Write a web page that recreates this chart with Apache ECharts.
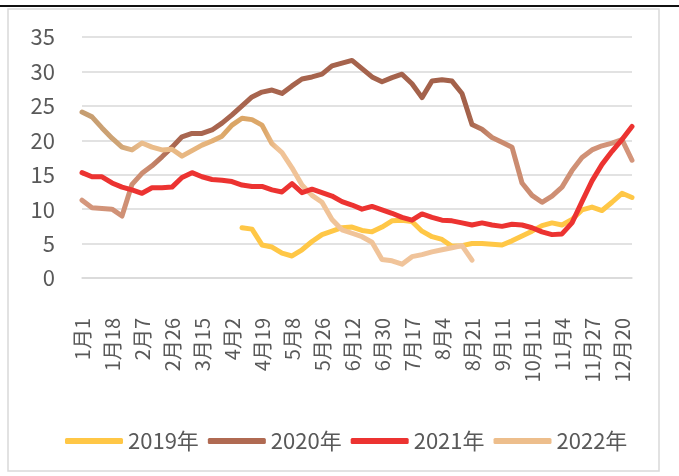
<!DOCTYPE html>
<html>
<head>
<meta charset="utf-8">
<title>chart</title>
<script src="https://cdn.jsdelivr.net/npm/echarts@6.0.0/dist/echarts.min.js"></script>
<style>
    html, body { margin: 0; padding: 0; background: #fff; }
    #main { width: 679px; height: 476px; }
</style>
</head>
<body>
<div id="main"></div>
<script>
// 日期 (每3个显示一个标签)
const categories = [
    '1月1', '1月7', '1月12', '1月18', '1月25', '2月1', '2月7', '2月14', '2月20', '2月26',
    '3月4', '3月10', '3月15', '3月21', '3月27', '4月2', '4月8', '4月14', '4月19', '4月25',
    '5月1', '5月8', '5月14', '5月20', '5月26', '6月1', '6月7', '6月12', '6月18', '6月24',
    '6月30', '7月6', '7月12', '7月17', '7月23', '7月29', '8月4', '8月10', '8月16', '8月21',
    '8月28', '9月4', '9月11', '9月18', '9月25', '10月11', '10月18', '10月25', '11月4', '11月12',
    '11月20', '11月27', '12月4', '12月12', '12月20', '12月27'
];

const seriesNames = ['2019年', '2020年', '2021年', '2022年'];

const data2019 = [
    null, null, null, null, null, null, null, null, null, null,
    null, null, null, null, null, null,
    7.3, 7.1, 4.8, 4.5, 3.6, 3.2, 4.1, 5.3, 6.3, 6.8,
    7.3, 7.4, 6.9, 6.7, 7.4, 8.3, 8.4, 8.2, 6.8, 6.0,
    5.6, 4.6, 4.7, 5.0, 5.0, 4.9, 4.8, 5.4, 6.1, 6.8,
    7.6, 8.0, 7.7, 8.5, 9.9, 10.3, 9.8, 11.0, 12.3, 11.7
];

const data2020 = [
    11.3, 10.2, 10.1, 10.0, 9.0, 13.6, 15.2, 16.3, 17.6, 19.0,
    20.5, 21.0, 21.0, 21.5, 22.5, 23.7, 25.0, 26.3, 27.0, 27.3,
    26.8, 27.9, 28.9, 29.2, 29.6, 30.8, 31.2, 31.6, 30.4, 29.2,
    28.5, 29.1, 29.6, 28.2, 26.2, 28.6, 28.8, 28.6, 26.8, 22.3,
    21.6, 20.4, 19.7, 19.0, 13.8, 12.0, 11.0, 11.9, 13.2, 15.6,
    17.5, 18.6, 19.2, 19.6, 20.1, 17.1
];

const data2021 = [
    15.3, 14.7, 14.7, 13.8, 13.2, 12.8, 12.3, 13.1, 13.1, 13.2,
    14.6, 15.3, 14.7, 14.3, 14.2, 14.0, 13.5, 13.3, 13.3, 12.8,
    12.5, 13.7, 12.4, 12.9, 12.4, 11.9, 11.1, 10.6, 10.0, 10.4,
    9.9, 9.4, 8.8, 8.4, 9.3, 8.8, 8.4, 8.3, 8.0, 7.7,
    8.0, 7.7, 7.5, 7.8, 7.7, 7.3, 6.7, 6.3, 6.4, 8.0,
    11.1, 14.1, 16.5, 18.4, 20.1, 22.0
];

const data2022 = [
    24.1, 23.4, 21.8, 20.3, 19.0, 18.6, 19.6, 19.0, 18.6, 18.7,
    17.7, 18.5, 19.3, 19.9, 20.6, 22.2, 23.2, 23.0, 22.2, 19.5,
    18.2, 16.0, 13.5, 12.0, 11.0, 8.5, 7.0, 6.5, 6.0, 5.2,
    2.7, 2.5, 2.0, 3.1, 3.4, 3.8, 4.1, 4.4, 4.7, 2.6,
    null, null, null, null, null, null, null, null, null, null,
    null, null, null, null, null, null
];

const yTicks = [0, 5, 10, 15, 20, 25, 30, 35];

const FONT = '"Noto Sans CJK SC", "Noto Sans", sans-serif';
const TEXT = '#595959';

let myChart = echarts.init(document.getElementById('main'));

// 渐变线
const brownLine = new echarts.graphic.LinearGradient(0, 0, 1, 0, [
    { offset: 0, color: '#D5987E' },
    { offset: 0.12, color: '#CC8C70' },
    { offset: 0.17, color: '#A96650' },
    { offset: 0.7, color: '#A3614A' },
    { offset: 0.74, color: '#C98A6E' },
    { offset: 1, color: '#D4957B' }
]);
const tanLine = new echarts.graphic.LinearGradient(0, 0, 1, 0, [
    { offset: 0, color: '#C49C70' },
    { offset: 0.1, color: '#CFA475' },
    { offset: 0.16, color: '#EBBD8C' },
    { offset: 0.32, color: '#E6B47C' },
    { offset: 0.38, color: '#DAA565' },
    { offset: 0.47, color: '#DDA86A' },
    { offset: 0.5, color: '#F0C397' },
    { offset: 1, color: '#F0C49C' }
]);

const lineBase = { width: 5, cap: 'round', join: 'round' };

myChart.setOption({
    animation: false,
    textStyle: { fontFamily: FONT },
    graphic: [
        {
            type: 'line',
            shape: { x1: 0, y1: 6, x2: 679, y2: 6 },
            style: { stroke: '#111', lineWidth: 2 }
        },
        {
            type: 'rect',
            shape: { x: 8, y: 9, width: 651, height: 462 },
            style: { fill: 'none', stroke: '#D9D9D9', lineWidth: 1.5 }
        }
    ],
    grid: {
        left: 82,
        right: 47,
        top: 37,
        bottom: 198
    },
    legend: {
        left: 60,
        top: 425,
        icon: 'roundRect',
        itemWidth: 58,
        itemHeight: 6,
        itemGap: 9,
        textStyle: { fontSize: 22, color: TEXT, fontFamily: FONT },
        data: [
            { name: seriesNames[0], itemStyle: { color: '#FFC746' } },
            { name: seriesNames[1], itemStyle: { color: '#B06A52' } },
            { name: seriesNames[2], itemStyle: { color: '#EC3331' } },
            { name: seriesNames[3], itemStyle: { color: '#EDBE8C' } }
        ]
    },
    xAxis: {
        type: 'category',
        boundaryGap: false,
        data: categories,
        axisLine: { lineStyle: { color: '#D9D9D9', width: 1.5 } },
        axisTick: { show: false },
        axisLabel: {
            interval: 2,
            rotate: 90,
            margin: 40,
            fontSize: 20,
            color: TEXT,
            fontFamily: FONT
        }
    },
    yAxis: {
        type: 'value',
        min: yTicks[0],
        max: yTicks[yTicks.length - 1],
        interval: 5,
        axisLine: { show: false },
        axisTick: { show: false },
        splitLine: { lineStyle: { color: '#D9D9D9', width: 1.5 } },
        axisLabel: { fontSize: 22, color: TEXT, margin: 27, fontFamily: FONT }
    },
    series: [
        {
            name: seriesNames[0],
            type: 'line',
            data: data2019,
            showSymbol: false,
            color: '#FFC746',
            lineStyle: Object.assign({ color: '#FFC746' }, lineBase),
            z: 2
        },
        {
            name: seriesNames[1],
            type: 'line',
            data: data2020,
            showSymbol: false,
            color: '#B06A52',
            lineStyle: Object.assign({ color: brownLine }, lineBase),
            z: 3
        },
        {
            name: seriesNames[2],
            type: 'line',
            data: data2021,
            showSymbol: false,
            color: '#EC3331',
            lineStyle: Object.assign({ color: '#EC3331' }, lineBase),
            z: 5
        },
        {
            name: seriesNames[3],
            type: 'line',
            data: data2022,
            showSymbol: false,
            color: '#EDBE8C',
            lineStyle: Object.assign({ color: tanLine }, lineBase),
            z: 4
        }
    ]
});
</script>
</body>
</html>
